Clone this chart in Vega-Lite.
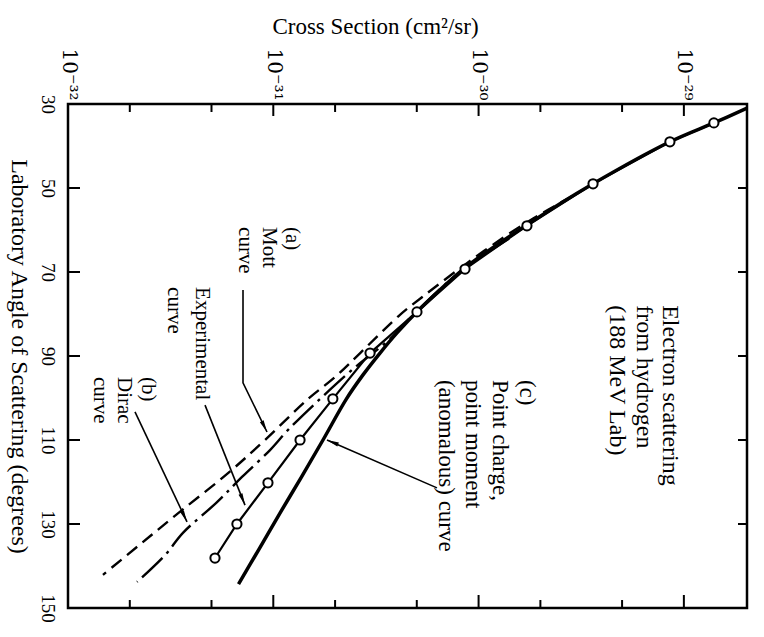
{
  "$schema": "https://vega.github.io/schema/vega-lite/v6.json",
  "width": 679,
  "height": 504,
  "autosize": {"type": "none"},
  "padding": {"left": 68, "top": 104, "right": 17, "bottom": 29},
  "background": "white",
  "config": {
    "view": {"stroke": "black", "strokeWidth": 2.5},
    "font": "Liberation Serif"
  },
  "datasets": {
    "experimental": [
      {"angle": 34.5, "sigma": 1.40e-29},
      {"angle": 39.0, "sigma": 8.55e-30},
      {"angle": 49.0, "sigma": 3.61e-30},
      {"angle": 59.0, "sigma": 1.72e-30},
      {"angle": 69.3, "sigma": 8.59e-31},
      {"angle": 79.5, "sigma": 5.01e-31},
      {"angle": 89.3, "sigma": 2.96e-31},
      {"angle": 100.2, "sigma": 1.95e-31},
      {"angle": 110.0, "sigma": 1.35e-31},
      {"angle": 120.2, "sigma": 9.42e-32},
      {"angle": 130.0, "sigma": 6.65e-32},
      {"angle": 138.1, "sigma": 5.20e-32}
    ],
    "anomalous": [
      {"angle": 31.0, "sigma": 2.03e-29},
      {"angle": 34.5, "sigma": 1.40e-29},
      {"angle": 39.0, "sigma": 8.55e-30},
      {"angle": 49.0, "sigma": 3.61e-30},
      {"angle": 58.8, "sigma": 1.72e-30},
      {"angle": 69.0, "sigma": 8.59e-31},
      {"angle": 79.0, "sigma": 5.13e-31},
      {"angle": 84.5, "sigma": 4.004e-31},
      {"angle": 89.3, "sigma": 3.31e-31},
      {"angle": 94.5, "sigma": 2.735e-31},
      {"angle": 100.2, "sigma": 2.272e-31},
      {"angle": 110.0, "sigma": 1.746e-31},
      {"angle": 119.0, "sigma": 1.364e-31},
      {"angle": 127.4, "sigma": 1.078e-31},
      {"angle": 136.2, "sigma": 8.47e-32},
      {"angle": 144.3, "sigma": 6.77e-32}
    ],
    "mott": [
      {"angle": 52.0, "sigma": 2.85e-30},
      {"angle": 55.2, "sigma": 2.18e-30},
      {"angle": 60.0, "sigma": 1.50e-30},
      {"angle": 67.9, "sigma": 8.78e-31},
      {"angle": 76.0, "sigma": 5.30e-31},
      {"angle": 80.2, "sigma": 4.14e-31},
      {"angle": 89.3, "sigma": 2.65e-31},
      {"angle": 95.0, "sigma": 2.00e-31},
      {"angle": 100.2, "sigma": 1.48e-31},
      {"angle": 110.0, "sigma": 9.11e-32},
      {"angle": 117.9, "sigma": 6.02e-32},
      {"angle": 126.7, "sigma": 3.59e-32},
      {"angle": 134.5, "sigma": 2.29e-32},
      {"angle": 142.1, "sigma": 1.48e-32}
    ],
    "dirac": [
      {"angle": 62.0, "sigma": 1.41e-30},
      {"angle": 70.0, "sigma": 8.11e-31},
      {"angle": 80.0, "sigma": 4.84e-31},
      {"angle": 85.5, "sigma": 3.79e-31},
      {"angle": 93.3, "sigma": 2.42e-31},
      {"angle": 100.7, "sigma": 1.65e-31},
      {"angle": 107.6, "sigma": 1.18e-31},
      {"angle": 112.4, "sigma": 9.64e-32},
      {"angle": 118.8, "sigma": 7.04e-32},
      {"angle": 124.8, "sigma": 5.32e-32},
      {"angle": 132.1, "sigma": 3.63e-32},
      {"angle": 137.4, "sigma": 2.97e-32},
      {"angle": 143.8, "sigma": 2.17e-32}
    ],
    "leaders": [
      {"id": "mott", "seq": 1, "angle": 74.3, "sigma": 7.12e-32},
      {"id": "mott", "seq": 2, "angle": 96.4, "sigma": 7.12e-32},
      {"id": "mott", "seq": 3, "angle": 108.1, "sigma": 9.32e-32},
      {"id": "experimental", "seq": 1, "angle": 101.7, "sigma": 4.65e-32},
      {"id": "experimental", "seq": 2, "angle": 125.5, "sigma": 7.28e-32},
      {"id": "dirac", "seq": 1, "angle": 103.3, "sigma": 2.12e-32},
      {"id": "dirac", "seq": 2, "angle": 129.5, "sigma": 3.80e-32},
      {"id": "anomalous", "seq": 1, "angle": 121.4, "sigma": 6.27e-31},
      {"id": "anomalous", "seq": 2, "angle": 110.0, "sigma": 1.826e-31}
    ],
    "decadeTicks": [
      {"sigma": 1e-31}, {"sigma": 1e-30}, {"sigma": 1e-29}
    ],
    "minorTicks": [
      {"sigma": 2e-32}, {"sigma": 5e-32}, {"sigma": 2e-31}, {"sigma": 5e-31},
      {"sigma": 2e-30}, {"sigma": 5e-30}
    ],
    "angleTicks": [
      {"angle": 50}, {"angle": 70}, {"angle": 90}, {"angle": 110}, {"angle": 130}
    ]
  },
  "layer": [
    {
      "data": {"name": "experimental"},
      "mark": {"type": "line", "color": "black", "strokeWidth": 2.2},
      "encoding": {
        "x": {
          "field": "sigma", "type": "quantitative",
          "scale": {"type": "log", "domain": [1e-32, 2.03e-29]},
          "axis": {
            "orient": "top",
            "values": [1e-32, 1e-31, 1e-30, 1e-29],
            "domain": false, "grid": false, "ticks": false, "tickSize": 0,
            "labelExpr": "abs(datum.value - 1e-32) < 1e-34 ? '10⁻³²' : abs(datum.value - 1e-31) < 1e-33 ? '10⁻³¹' : abs(datum.value - 1e-30) < 1e-32 ? '10⁻³⁰' : '10⁻²⁹'",
            "labelAngle": 90, "labelAlign": "right", "labelBaseline": "middle",
            "labelFont": "DejaVu Serif", "labelFontSize": 20, "labelColor": "black",
            "labelPadding": 4, "labelOverlap": false, "labelBound": false, "labelFlush": false,
            "title": "Cross Section (cm²/sr)",
            "titleFont": "Liberation Serif", "titleFontSize": 23, "titleFontWeight": "normal", "titleColor": "black",
            "titleX": 307, "titleAlign": "center",
            "titlePadding": 9
          }
        },
        "y": {
          "field": "angle", "type": "quantitative",
          "scale": {"domain": [30, 150], "reverse": true},
          "axis": {
            "orient": "left",
            "values": [30, 50, 70, 90, 110, 130, 150],
            "domain": false, "grid": false, "ticks": false, "tickSize": 0,
            "labelAngle": 90, "labelAlign": "center", "labelBaseline": "top",
            "labelFont": "Liberation Serif", "labelFontSize": 19, "labelColor": "black",
            "labelPadding": 12, "labelOverlap": false, "labelBound": false, "labelFlush": false,
            "title": "Laboratory Angle of Scattering (degrees)",
            "titleAngle": 90, "titleBaseline": "top",
            "titleFont": "Liberation Serif", "titleFontSize": 24, "titleFontWeight": "normal", "titleColor": "black",
            "titlePadding": 7
          }
        },
        "order": {"field": "angle", "type": "quantitative"}
      }
    },
    {
      "data": {"name": "decadeTicks"},
      "mark": {"type": "rule", "color": "black", "strokeWidth": 2},
      "encoding": {
        "x": {"field": "sigma", "type": "quantitative", "scale": {"type": "log", "domain": [1e-32, 2.03e-29]}, "axis": null},
        "y": {"datum": 30, "type": "quantitative", "scale": {"domain": [30, 150], "reverse": true}, "axis": null},
        "y2": {"datum": 32.86}
      }
    },
    {
      "data": {"name": "minorTicks"},
      "mark": {"type": "rule", "color": "black", "strokeWidth": 2},
      "encoding": {
        "x": {"field": "sigma", "type": "quantitative", "scale": {"type": "log", "domain": [1e-32, 2.03e-29]}, "axis": null},
        "y": {"datum": 30, "type": "quantitative", "scale": {"domain": [30, 150], "reverse": true}, "axis": null},
        "y2": {"datum": 31.9}
      }
    },
    {
      "data": {"name": "decadeTicks"},
      "mark": {"type": "rule", "color": "black", "strokeWidth": 2},
      "encoding": {
        "x": {"field": "sigma", "type": "quantitative", "scale": {"type": "log", "domain": [1e-32, 2.03e-29]}, "axis": null},
        "y": {"datum": 150, "type": "quantitative", "scale": {"domain": [30, 150], "reverse": true}, "axis": null},
        "y2": {"datum": 146.9}
      }
    },
    {
      "data": {"name": "minorTicks"},
      "mark": {"type": "rule", "color": "black", "strokeWidth": 2},
      "encoding": {
        "x": {"field": "sigma", "type": "quantitative", "scale": {"type": "log", "domain": [1e-32, 2.03e-29]}, "axis": null},
        "y": {"datum": 150, "type": "quantitative", "scale": {"domain": [30, 150], "reverse": true}, "axis": null},
        "y2": {"datum": 148.1}
      }
    },
    {
      "data": {"name": "angleTicks"},
      "mark": {"type": "rule", "color": "black", "strokeWidth": 2},
      "encoding": {
        "x": {"datum": 1e-32, "type": "quantitative", "scale": {"type": "log", "domain": [1e-32, 2.03e-29]}, "axis": null},
        "x2": {"datum": 1.144e-32},
        "y": {"field": "angle", "type": "quantitative", "scale": {"domain": [30, 150], "reverse": true}, "axis": null}
      }
    },
    {
      "data": {"name": "angleTicks"},
      "mark": {"type": "rule", "color": "black", "strokeWidth": 2},
      "encoding": {
        "x": {"datum": 2.03e-29, "type": "quantitative", "scale": {"type": "log", "domain": [1e-32, 2.03e-29]}, "axis": null},
        "x2": {"datum": 1.835e-29},
        "y": {"field": "angle", "type": "quantitative", "scale": {"domain": [30, 150], "reverse": true}, "axis": null}
      }
    },
    {
      "data": {"name": "anomalous"},
      "mark": {"type": "line", "color": "black", "strokeWidth": 3.5, "interpolate": "catmull-rom"},
      "encoding": {
        "x": {"field": "sigma", "type": "quantitative", "scale": {"type": "log", "domain": [1e-32, 2.03e-29]}, "axis": null},
        "y": {"field": "angle", "type": "quantitative", "scale": {"domain": [30, 150], "reverse": true}, "axis": null},
        "order": {"field": "angle", "type": "quantitative"}
      }
    },
    {
      "data": {"name": "mott"},
      "mark": {"type": "line", "color": "black", "strokeWidth": 2.4, "strokeDash": [13, 7], "interpolate": "catmull-rom"},
      "encoding": {
        "x": {"field": "sigma", "type": "quantitative", "scale": {"type": "log", "domain": [1e-32, 2.03e-29]}, "axis": null},
        "y": {"field": "angle", "type": "quantitative", "scale": {"domain": [30, 150], "reverse": true}, "axis": null},
        "order": {"field": "angle", "type": "quantitative"}
      }
    },
    {
      "data": {"name": "dirac"},
      "mark": {"type": "line", "color": "black", "strokeWidth": 2.4, "strokeDash": [28, 6, 3, 6], "interpolate": "catmull-rom"},
      "encoding": {
        "x": {"field": "sigma", "type": "quantitative", "scale": {"type": "log", "domain": [1e-32, 2.03e-29]}, "axis": null},
        "y": {"field": "angle", "type": "quantitative", "scale": {"domain": [30, 150], "reverse": true}, "axis": null},
        "order": {"field": "angle", "type": "quantitative"}
      }
    },
    {
      "data": {"name": "experimental"},
      "mark": {"type": "point", "shape": "circle", "filled": false, "fill": "white", "fillOpacity": 1, "stroke": "black", "strokeWidth": 2, "size": 85, "opacity": 1},
      "encoding": {
        "x": {"field": "sigma", "type": "quantitative", "scale": {"type": "log", "domain": [1e-32, 2.03e-29]}, "axis": null},
        "y": {"field": "angle", "type": "quantitative", "scale": {"domain": [30, 150], "reverse": true}, "axis": null}
      }
    },
    {
      "data": {"name": "leaders"},
      "mark": {"type": "line", "color": "black", "strokeWidth": 1.6},
      "encoding": {
        "x": {"field": "sigma", "type": "quantitative", "scale": {"type": "log", "domain": [1e-32, 2.03e-29]}, "axis": null},
        "y": {"field": "angle", "type": "quantitative", "scale": {"domain": [30, 150], "reverse": true}, "axis": null},
        "detail": {"field": "id"},
        "order": {"field": "seq", "type": "quantitative"}
      }
    },
    {
      "data": {"name": "leaders"},
      "transform": [{"filter": "datum.id == 'mott' && datum.seq == 3"}],
      "mark": {"type": "point", "shape": "M0,0L-0.35,2L0.35,2Z", "filled": true, "color": "black", "size": 144, "angle": 154, "opacity": 1},
      "encoding": {
        "x": {"field": "sigma", "type": "quantitative", "scale": {"type": "log", "domain": [1e-32, 2.03e-29]}, "axis": null},
        "y": {"field": "angle", "type": "quantitative", "scale": {"domain": [30, 150], "reverse": true}, "axis": null}
      }
    },
    {
      "data": {"name": "leaders"},
      "transform": [{"filter": "datum.id == 'experimental' && datum.seq == 2"}],
      "mark": {"type": "point", "shape": "M0,0L-0.35,2L0.35,2Z", "filled": true, "color": "black", "size": 144, "angle": 158, "opacity": 1},
      "encoding": {
        "x": {"field": "sigma", "type": "quantitative", "scale": {"type": "log", "domain": [1e-32, 2.03e-29]}, "axis": null},
        "y": {"field": "angle", "type": "quantitative", "scale": {"domain": [30, 150], "reverse": true}, "axis": null}
      }
    },
    {
      "data": {"name": "leaders"},
      "transform": [{"filter": "datum.id == 'dirac' && datum.seq == 2"}],
      "mark": {"type": "point", "shape": "M0,0L-0.35,2L0.35,2Z", "filled": true, "color": "black", "size": 144, "angle": 155, "opacity": 1},
      "encoding": {
        "x": {"field": "sigma", "type": "quantitative", "scale": {"type": "log", "domain": [1e-32, 2.03e-29]}, "axis": null},
        "y": {"field": "angle", "type": "quantitative", "scale": {"domain": [30, 150], "reverse": true}, "axis": null}
      }
    },
    {
      "data": {"name": "leaders"},
      "transform": [{"filter": "datum.id == 'anomalous' && datum.seq == 2"}],
      "mark": {"type": "point", "shape": "M0,0L-0.35,2L0.35,2Z", "filled": true, "color": "black", "size": 144, "angle": 292, "opacity": 1},
      "encoding": {
        "x": {"field": "sigma", "type": "quantitative", "scale": {"type": "log", "domain": [1e-32, 2.03e-29]}, "axis": null},
        "y": {"field": "angle", "type": "quantitative", "scale": {"domain": [30, 150], "reverse": true}, "axis": null}
      }
    },
    {
      "data": {"values": [
        {"angle": 77.9, "sigma": 8.56e-30, "label": "Electron scattering\nfrom hydrogen\n(188 MeV Lab)"}
      ]},
      "mark": {"type": "text", "angle": 90, "align": "left", "baseline": "middle", "lineBreak": "\n", "lineHeight": 26.5, "font": "Liberation Serif", "fontSize": 24, "color": "black"},
      "encoding": {
        "x": {"field": "sigma", "type": "quantitative", "scale": {"type": "log", "domain": [1e-32, 2.03e-29]}, "axis": null},
        "y": {"field": "angle", "type": "quantitative", "scale": {"domain": [30, 150], "reverse": true}, "axis": null},
        "text": {"field": "label"}
      }
    },
    {
      "data": {"values": [
        {"angle": 95.7, "sigma": 1.72e-30, "label": "(c)\nPoint charge,\npoint moment\n(anomalous) curve"}
      ]},
      "mark": {"type": "text", "angle": 90, "align": "left", "baseline": "middle", "lineBreak": "\n", "lineHeight": 27, "font": "Liberation Serif", "fontSize": 23, "color": "black"},
      "encoding": {
        "x": {"field": "sigma", "type": "quantitative", "scale": {"type": "log", "domain": [1e-32, 2.03e-29]}, "axis": null},
        "y": {"field": "angle", "type": "quantitative", "scale": {"domain": [30, 150], "reverse": true}, "axis": null},
        "text": {"field": "label"}
      }
    },
    {
      "data": {"values": [
        {"angle": 59.3, "sigma": 1.234e-31, "label": "(a)\nMott\ncurve"}
      ]},
      "mark": {"type": "text", "angle": 90, "align": "left", "baseline": "middle", "lineBreak": "\n", "lineHeight": 23.5, "font": "Liberation Serif", "fontSize": 21, "color": "black"},
      "encoding": {
        "x": {"field": "sigma", "type": "quantitative", "scale": {"type": "log", "domain": [1e-32, 2.03e-29]}, "axis": null},
        "y": {"field": "angle", "type": "quantitative", "scale": {"domain": [30, 150], "reverse": true}, "axis": null},
        "text": {"field": "label"}
      }
    },
    {
      "data": {"values": [
        {"angle": 73.6, "sigma": 4.50e-32, "label": "Experimental\ncurve"}
      ]},
      "mark": {"type": "text", "angle": 90, "align": "left", "baseline": "middle", "lineBreak": "\n", "lineHeight": 28, "font": "Liberation Serif", "fontSize": 21, "color": "black"},
      "encoding": {
        "x": {"field": "sigma", "type": "quantitative", "scale": {"type": "log", "domain": [1e-32, 2.03e-29]}, "axis": null},
        "y": {"field": "angle", "type": "quantitative", "scale": {"domain": [30, 150], "reverse": true}, "axis": null},
        "text": {"field": "label"}
      }
    },
    {
      "data": {"values": [
        {"angle": 95.0, "sigma": 2.45e-32, "label": "(b)\nDirac\ncurve"}
      ]},
      "mark": {"type": "text", "angle": 90, "align": "left", "baseline": "middle", "lineBreak": "\n", "lineHeight": 24, "font": "Liberation Serif", "fontSize": 21, "color": "black"},
      "encoding": {
        "x": {"field": "sigma", "type": "quantitative", "scale": {"type": "log", "domain": [1e-32, 2.03e-29]}, "axis": null},
        "y": {"field": "angle", "type": "quantitative", "scale": {"domain": [30, 150], "reverse": true}, "axis": null},
        "text": {"field": "label"}
      }
    }
  ],
  "resolve": {"axis": {"x": "independent", "y": "independent"}}
}
